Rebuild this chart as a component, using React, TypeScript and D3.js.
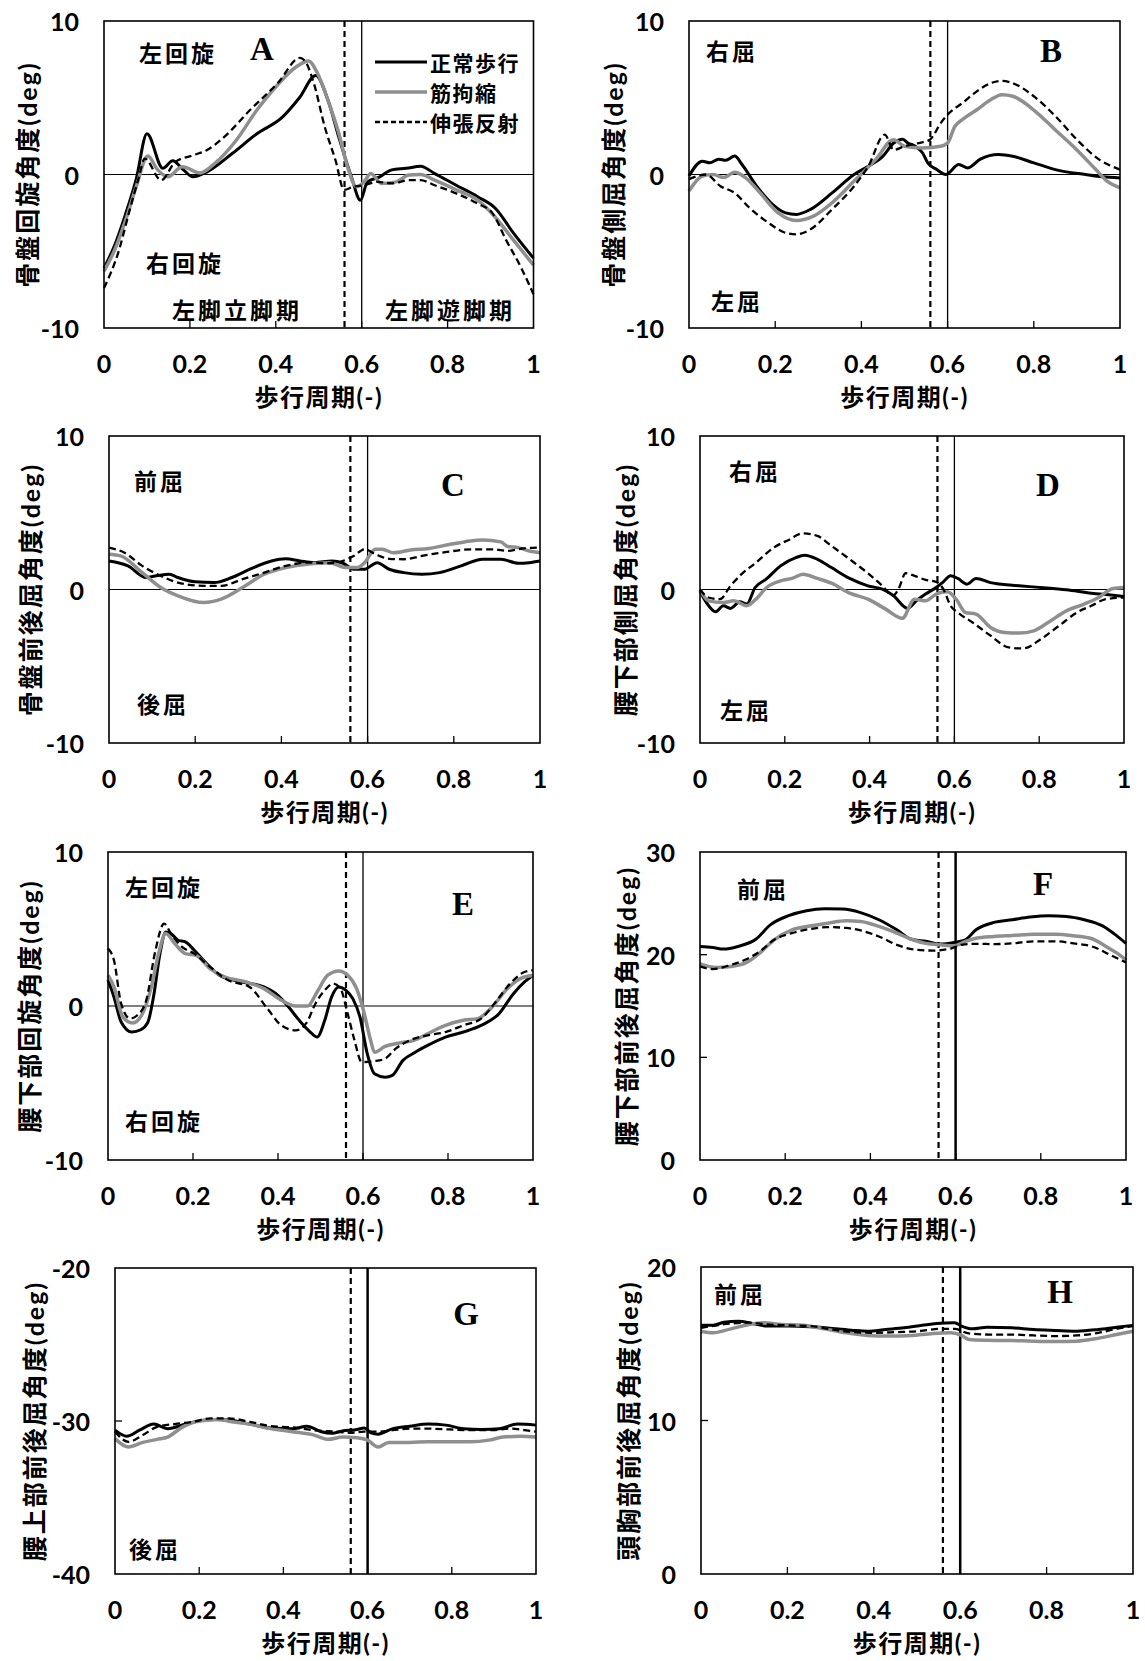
import React from 'react';
import * as d3 from 'd3';

type Pt = [number, number];

const xTicks = [0, 0.2, 0.4, 0.6, 0.8, 1];
const seriesNames = ['正常歩行', '筋拘縮', '伸張反射'];
const phaseDashed = 0.56;
const phaseSolid = 0.6;

// A: 骨盤回旋
const A_normal: Pt[] = [[0,-6.1],[0.025,-4.6],[0.05,-2.6],[0.075,-0.3],[0.1,2.66],[0.137,0.4],[0.16,0.9],[0.185,0.3],[0.207,-0.15],[0.24,0.17],[0.3,1.4],[0.356,2.66],[0.414,3.7],[0.455,5.0],[0.493,6.45],[0.522,4.8],[0.547,2.4],[0.576,-0.15],[0.597,-1.67],[0.613,-0.5],[0.642,-0.15],[0.67,0.3],[0.704,0.4],[0.737,0.54],[0.77,0.06],[0.82,-0.7],[0.87,-1.45],[0.911,-2.2],[0.953,-3.8],[1,-5.45]];
const A_contracture: Pt[] = [[0,-6.3],[0.025,-4.9],[0.05,-3.0],[0.075,-0.8],[0.102,1.2],[0.125,0.3],[0.149,-0.15],[0.182,0.5],[0.224,0.1],[0.257,0.7],[0.307,2.2],[0.356,4.2],[0.406,5.9],[0.447,7.0],[0.476,7.4],[0.497,6.6],[0.522,4.8],[0.547,2.66],[0.567,0.5],[0.588,-0.8],[0.605,-0.5],[0.621,0.06],[0.646,-0.58],[0.68,-0.48],[0.71,-0.04],[0.737,0],[0.77,-0.37],[0.82,-1.0],[0.87,-1.67],[0.91,-2.75],[0.953,-4.26],[1,-5.9]];
const A_reflex: Pt[] = [[0,-7.4],[0.033,-5.1],[0.06,-2.3],[0.08,-0.3],[0.095,1.04],[0.133,-0.37],[0.166,0.82],[0.207,1.25],[0.24,1.6],[0.28,2.45],[0.34,4.2],[0.406,6.0],[0.456,7.6],[0.468,7.4],[0.489,5.9],[0.514,3.1],[0.539,0.93],[0.559,-1.0],[0.58,-0.8],[0.605,-0.7],[0.638,-0.48],[0.67,-0.58],[0.71,-0.37],[0.737,-0.37],[0.77,-0.7],[0.82,-1.23],[0.87,-1.9],[0.904,-2.5],[0.936,-4.26],[0.97,-6.0],[1,-7.8]];

// B: 骨盤側屈
const B_normal: Pt[] = [[0,-0.1],[0.031,0.87],[0.048,0.76],[0.069,1.0],[0.085,0.93],[0.106,1.2],[0.123,0.65],[0.157,-0.76],[0.19,-1.84],[0.224,-2.5],[0.249,-2.6],[0.282,-2.27],[0.332,-1.2],[0.383,0],[0.416,0.54],[0.45,1.2],[0.475,2.05],[0.496,2.3],[0.508,2.05],[0.525,1.84],[0.542,1.4],[0.554,0.76],[0.575,0.32],[0.596,0],[0.626,0.65],[0.647,0.43],[0.676,1.0],[0.718,1.3],[0.751,1.19],[0.8,0.76],[0.85,0.32],[0.92,0],[0.96,-0.15],[1,-0.22]];
const B_contracture: Pt[] = [[0,-1.08],[0.031,-0.1],[0.056,0],[0.081,-0.2],[0.106,0.15],[0.131,-0.2],[0.165,-1.2],[0.207,-2.5],[0.249,-3.0],[0.29,-2.7],[0.332,-1.84],[0.383,-0.43],[0.433,0.97],[0.475,2.27],[0.5,1.84],[0.542,1.73],[0.584,1.84],[0.6,2.05],[0.617,3.14],[0.634,3.57],[0.667,4.2],[0.7,4.87],[0.726,5.2],[0.751,5.1],[0.8,4.2],[0.85,2.9],[0.9,1.6],[0.944,0.32],[0.97,-0.43],[1,-0.87]];
const B_reflex: Pt[] = [[0,-0.3],[0.039,0],[0.073,-0.76],[0.106,-1.2],[0.14,-2.16],[0.182,-3.1],[0.224,-3.8],[0.249,-3.9],[0.282,-3.57],[0.332,-2.27],[0.383,-0.76],[0.416,0.54],[0.454,2.6],[0.475,1.6],[0.5,1.84],[0.533,2.05],[0.559,2.27],[0.584,3.35],[0.6,3.9],[0.634,4.65],[0.667,5.4],[0.7,5.95],[0.726,6.1],[0.751,5.95],[0.8,5.1],[0.85,3.8],[0.9,2.27],[0.952,0.97],[1,0.32]];

// C: 骨盤前後屈
const C_normal: Pt[] = [[0,1.86],[0.044,1.54],[0.086,0.78],[0.11,0.89],[0.14,1.0],[0.16,0.78],[0.2,0.5],[0.244,0.45],[0.285,0.78],[0.327,1.32],[0.377,1.86],[0.41,2.0],[0.443,1.86],[0.476,1.75],[0.518,1.86],[0.543,1.71],[0.568,1.32],[0.593,1.32],[0.622,1.75],[0.65,1.32],[0.684,1.1],[0.726,1.0],[0.767,1.1],[0.817,1.54],[0.867,1.97],[0.909,1.97],[0.95,1.71],[0.975,1.75],[1,1.86]];
const C_contracture: Pt[] = [[0,2.3],[0.027,2.19],[0.077,1.1],[0.12,0.13],[0.16,-0.41],[0.22,-0.85],[0.26,-0.63],[0.31,0.13],[0.36,1.0],[0.41,1.43],[0.46,1.65],[0.51,1.75],[0.551,1.43],[0.576,1.43],[0.593,1.75],[0.618,2.62],[0.634,2.62],[0.66,2.4],[0.7,2.58],[0.742,2.67],[0.792,2.95],[0.825,3.1],[0.867,3.23],[0.909,3.1],[0.925,2.8],[0.95,2.73],[0.975,2.51],[1,2.4]];
const C_reflex: Pt[] = [[0,2.73],[0.036,2.4],[0.077,1.54],[0.12,0.89],[0.16,0.45],[0.219,0.24],[0.26,0.24],[0.31,0.67],[0.36,1.1],[0.41,1.54],[0.46,1.75],[0.51,1.71],[0.543,1.86],[0.568,2.19],[0.593,2.62],[0.618,2.3],[0.65,2.0],[0.684,1.97],[0.726,2.19],[0.784,2.45],[0.842,2.62],[0.892,2.62],[0.925,2.51],[0.959,2.67],[1,2.73]];

// D: 腰下部側屈
const D_normal: Pt[] = [[0,-0.1],[0.015,-0.85],[0.037,-1.45],[0.055,-1.06],[0.072,-1.23],[0.094,-0.8],[0.11,-0.95],[0.13,0.13],[0.156,0.67],[0.19,1.54],[0.226,2.08],[0.247,2.23],[0.277,1.97],[0.31,1.43],[0.353,0.72],[0.396,0.24],[0.43,0.02],[0.455,-0.37],[0.49,-1.23],[0.51,-0.74],[0.532,-0.3],[0.557,0.13],[0.574,0.5],[0.591,0.89],[0.608,0.72],[0.63,0.35],[0.651,0.72],[0.685,0.45],[0.736,0.28],[0.804,0.13],[0.864,-0.02],[0.923,-0.24],[0.974,-0.37],[1,-0.45]];
const D_contracture: Pt[] = [[0,0],[0.02,-0.74],[0.055,-0.85],[0.08,-0.74],[0.11,-1.06],[0.132,-0.63],[0.157,0.13],[0.19,0.56],[0.217,0.72],[0.243,1.0],[0.277,0.72],[0.31,0.41],[0.353,-0.24],[0.396,-0.63],[0.438,-1.28],[0.477,-1.88],[0.506,-0.63],[0.532,-0.74],[0.557,-0.3],[0.583,-0.15],[0.604,-0.63],[0.626,-1.5],[0.651,-1.6],[0.685,-2.47],[0.719,-2.8],[0.753,-2.84],[0.787,-2.69],[0.821,-2.15],[0.864,-1.39],[0.906,-0.95],[0.94,-0.52],[0.974,0.07],[1,0.13]];
const D_reflex: Pt[] = [[0,0],[0.02,-0.52],[0.047,-0.63],[0.072,0.24],[0.098,1.0],[0.132,1.75],[0.174,2.73],[0.209,3.23],[0.243,3.66],[0.277,3.49],[0.31,2.84],[0.353,1.97],[0.396,1.06],[0.43,0.24],[0.455,-0.41],[0.468,0.02],[0.485,1.06],[0.506,0.89],[0.532,0.63],[0.557,0.5],[0.574,0.02],[0.591,-1.06],[0.608,-1.5],[0.643,-2.15],[0.685,-3.0],[0.728,-3.77],[0.762,-3.84],[0.804,-3.23],[0.847,-2.36],[0.889,-1.5],[0.923,-1.06],[0.957,-0.63],[1,-0.52]];

// E: 腰下部回旋
const E_normal: Pt[] = [[0,1.71],[0.014,0.58],[0.031,-1.04],[0.056,-1.69],[0.077,-1.54],[0.094,-1.04],[0.107,0.58],[0.123,3.51],[0.136,4.81],[0.148,4.7],[0.165,4.27],[0.182,4.16],[0.203,3.62],[0.232,2.75],[0.266,1.93],[0.316,1.56],[0.367,1.24],[0.4,0.69],[0.425,-0.07],[0.45,-0.93],[0.476,-1.69],[0.492,-2.02],[0.51,-0.93],[0.526,0.58],[0.543,1.24],[0.56,1.02],[0.576,0.48],[0.593,-0.72],[0.61,-3.1],[0.627,-4.4],[0.652,-4.62],[0.669,-4.5],[0.694,-3.53],[0.72,-3.05],[0.752,-2.56],[0.794,-2.02],[0.836,-1.69],[0.878,-1.26],[0.92,-0.5],[0.954,0.8],[0.98,1.56],[1,2.0]];
const E_contracture: Pt[] = [[0,2.0],[0.014,1.24],[0.035,-0.72],[0.058,-1.1],[0.081,-0.5],[0.102,1.24],[0.119,3.4],[0.136,4.7],[0.157,4.05],[0.182,3.4],[0.207,3.29],[0.24,2.43],[0.274,1.89],[0.325,1.56],[0.367,1.13],[0.408,0.37],[0.442,0],[0.47,0],[0.492,0.91],[0.517,2.0],[0.543,2.28],[0.564,2.0],[0.585,1.13],[0.601,-0.28],[0.618,-2.23],[0.627,-3.0],[0.652,-2.62],[0.686,-2.4],[0.72,-2.23],[0.752,-1.8],[0.794,-1.26],[0.836,-0.93],[0.87,-0.82],[0.904,-0.07],[0.937,1.06],[0.97,1.78],[1,2.0]];
const E_reflex: Pt[] = [[0,3.73],[0.014,2.97],[0.031,0.15],[0.052,-0.82],[0.069,-0.6],[0.09,0.37],[0.11,3.4],[0.132,5.35],[0.148,4.7],[0.174,3.84],[0.203,3.4],[0.24,2.54],[0.283,1.67],[0.333,1.24],[0.375,-0.17],[0.408,-1.26],[0.442,-1.58],[0.467,-1.1],[0.488,0.15],[0.51,1.02],[0.53,1.45],[0.547,1.13],[0.564,-0.5],[0.58,-2.23],[0.597,-3.64],[0.627,-3.58],[0.652,-3.42],[0.677,-2.77],[0.71,-2.23],[0.752,-1.9],[0.794,-1.69],[0.836,-1.26],[0.878,-0.82],[0.912,0.26],[0.946,1.45],[0.98,2.21],[1,2.32]];

// F: 腰下部前後屈
const F_normal: Pt[] = [[0,20.8],[0.03,20.7],[0.055,20.54],[0.089,20.8],[0.131,21.5],[0.165,22.9],[0.208,23.8],[0.25,24.28],[0.292,24.47],[0.335,24.44],[0.377,24.1],[0.42,23.4],[0.462,22.42],[0.496,21.5],[0.53,21.3],[0.564,21.03],[0.597,21.2],[0.623,21.45],[0.648,22.42],[0.69,23.14],[0.733,23.4],[0.775,23.66],[0.818,23.79],[0.86,23.72],[0.902,23.4],[0.945,22.8],[0.97,22.1],[1,21.1]];
const F_contracture: Pt[] = [[0,19.1],[0.038,18.75],[0.072,18.85],[0.106,19.17],[0.14,20.15],[0.174,21.45],[0.216,22.42],[0.258,22.8],[0.3,23.07],[0.343,23.3],[0.377,23.24],[0.42,22.75],[0.462,22.1],[0.496,21.5],[0.53,21.1],[0.564,20.96],[0.597,20.86],[0.623,21.3],[0.648,21.6],[0.69,21.77],[0.733,21.87],[0.784,22.0],[0.835,22.0],[0.877,21.84],[0.92,21.55],[0.953,20.8],[0.979,20.15],[1,19.5]];
const F_reflex: Pt[] = [[0,18.85],[0.03,18.6],[0.072,19.0],[0.106,19.5],[0.14,20.3],[0.174,21.45],[0.216,22.1],[0.258,22.5],[0.3,22.68],[0.343,22.6],[0.377,22.36],[0.42,21.77],[0.462,20.96],[0.496,20.54],[0.547,20.4],[0.589,20.6],[0.614,20.96],[0.648,21.06],[0.69,21.03],[0.733,21.1],[0.784,21.3],[0.835,21.3],[0.877,21.1],[0.92,20.8],[0.962,20.0],[1,19.24]];

// G: 腰上部前後屈
const G_normal: Pt[] = [[0,-30.6],[0.028,-31.0],[0.058,-30.6],[0.092,-30.2],[0.125,-30.5],[0.168,-30.2],[0.2,-30.0],[0.236,-29.9],[0.27,-29.94],[0.32,-30.2],[0.37,-30.45],[0.422,-30.5],[0.456,-30.34],[0.49,-30.7],[0.515,-30.8],[0.54,-30.65],[0.575,-30.55],[0.592,-30.45],[0.608,-30.77],[0.625,-30.86],[0.66,-30.5],[0.7,-30.34],[0.744,-30.2],[0.786,-30.27],[0.828,-30.5],[0.871,-30.55],[0.913,-30.5],[0.956,-30.2],[1,-30.27]];
const G_contracture: Pt[] = [[0,-31.15],[0.032,-31.7],[0.066,-31.4],[0.1,-31.2],[0.125,-31.05],[0.16,-30.4],[0.2,-30.0],[0.245,-29.9],[0.278,-30.05],[0.32,-30.2],[0.37,-30.5],[0.422,-30.7],[0.473,-30.92],[0.507,-31.2],[0.54,-31.05],[0.575,-31.1],[0.6,-31.25],[0.625,-31.7],[0.65,-31.4],[0.7,-31.4],[0.744,-31.35],[0.795,-31.35],[0.845,-31.35],[0.888,-31.25],[0.922,-31.05],[0.964,-31.0],[1,-31.05]];
const G_reflex: Pt[] = [[0,-30.7],[0.032,-31.36],[0.066,-30.92],[0.1,-30.38],[0.142,-30.2],[0.185,-30.05],[0.227,-29.83],[0.27,-29.83],[0.32,-30.05],[0.37,-30.34],[0.422,-30.42],[0.473,-30.6],[0.525,-30.7],[0.558,-30.77],[0.592,-30.7],[0.625,-30.7],[0.66,-30.6],[0.7,-30.5],[0.744,-30.5],[0.795,-30.55],[0.845,-30.6],[0.897,-30.6],[0.939,-30.5],[0.973,-30.6],[1,-30.7]];

// H: 頭胸部前後屈
const H_normal: Pt[] = [[0,16.2],[0.028,16.2],[0.053,16.4],[0.086,16.47],[0.12,16.32],[0.153,16.15],[0.203,16.15],[0.253,16.1],[0.303,16.0],[0.353,15.87],[0.386,15.82],[0.428,15.93],[0.47,16.04],[0.512,16.2],[0.545,16.32],[0.587,16.37],[0.603,16.15],[0.629,15.97],[0.662,16.08],[0.72,16.04],[0.77,15.93],[0.82,15.87],[0.87,15.82],[0.92,15.93],[0.962,16.08],[1,16.2]];
const H_contracture: Pt[] = [[0,15.82],[0.028,15.71],[0.069,15.97],[0.111,16.26],[0.145,16.37],[0.186,16.26],[0.236,16.2],[0.286,15.97],[0.336,15.71],[0.386,15.54],[0.437,15.5],[0.487,15.54],[0.537,15.67],[0.578,15.71],[0.603,15.54],[0.62,15.28],[0.662,15.23],[0.72,15.21],[0.77,15.17],[0.82,15.15],[0.87,15.17],[0.912,15.32],[0.962,15.6],[1,15.82]];
const H_reflex: Pt[] = [[0,16.04],[0.036,16.2],[0.069,16.32],[0.111,16.37],[0.153,16.26],[0.203,16.2],[0.253,16.15],[0.303,15.93],[0.353,15.76],[0.403,15.71],[0.453,15.76],[0.503,15.82],[0.553,15.97],[0.587,15.97],[0.62,15.67],[0.67,15.6],[0.72,15.6],[0.77,15.54],[0.82,15.5],[0.87,15.54],[0.92,15.71],[0.962,15.97],[1,16.15]];

const GRAY = '#8f8f8f';
const FONT = "Lato, 'Noto Sans CJK JP', sans-serif";
const CJK = "'Noto Sans CJK JP', sans-serif";

type Note = { t: string; x: number; y: number };
type Panel = {
  key: string;
  box: [number, number, number, number];
  yDomain: [number, number];
  yTicks: number[];
  title: string;
  titleX: number;
  heavy: boolean;
  series: Pt[][];
  notes: Note[];
  letter: [number, number];
};

const panels: Panel[] = [
  { key: 'A', box: [104, 21, 533.5, 328], yDomain: [-10, 10], yTicks: [-10, 0, 10], title: '骨盤回旋角度(deg)', titleX: 27, heavy: false,
    series: [A_normal, A_contracture, A_reflex],
    notes: [{ t: '左回旋', x: 139, y: 52 }, { t: '右回旋', x: 146, y: 262 }, { t: '左脚立脚期', x: 172, y: 309 }, { t: '左脚遊脚期', x: 385, y: 309 }],
    letter: [262, 49] },
  { key: 'B', box: [689, 21, 1120, 328], yDomain: [-10, 10], yTicks: [-10, 0, 10], title: '骨盤側屈角度(deg)', titleX: 613, heavy: false,
    series: [B_normal, B_contracture, B_reflex],
    notes: [{ t: '右屈', x: 706, y: 50 }, { t: '左屈', x: 711, y: 300 }],
    letter: [1051, 51] },
  { key: 'C', box: [109, 436, 540, 743], yDomain: [-10, 10], yTicks: [-10, 0, 10], title: '骨盤前後屈角度(deg)', titleX: 30, heavy: false,
    series: [C_normal, C_contracture, C_reflex],
    notes: [{ t: '前屈', x: 134, y: 480 }, { t: '後屈', x: 137, y: 703 }],
    letter: [453, 485] },
  { key: 'D', box: [700, 436, 1124, 743], yDomain: [-10, 10], yTicks: [-10, 0, 10], title: '腰下部側屈角度(deg)', titleX: 625, heavy: false,
    series: [D_normal, D_contracture, D_reflex],
    notes: [{ t: '右屈', x: 729, y: 470 }, { t: '左屈', x: 720, y: 709 }],
    letter: [1048, 485] },
  { key: 'E', box: [108, 852, 533, 1160], yDomain: [-10, 10], yTicks: [-10, 0, 10], title: '腰下部回旋角度(deg)', titleX: 29, heavy: false,
    series: [E_normal, E_contracture, E_reflex],
    notes: [{ t: '左回旋', x: 125, y: 886 }, { t: '右回旋', x: 125, y: 1120 }],
    letter: [463, 904] },
  { key: 'F', box: [700, 852, 1126, 1160], yDomain: [0, 30], yTicks: [0, 10, 20, 30], title: '腰下部前後屈角度(deg)', titleX: 626, heavy: true,
    series: [F_normal, F_contracture, F_reflex],
    notes: [{ t: '前屈', x: 737, y: 888 }],
    letter: [1043, 884] },
  { key: 'G', box: [115, 1268, 536, 1574], yDomain: [-40, -20], yTicks: [-40, -30, -20], title: '腰上部前後屈角度(deg)', titleX: 34, heavy: true,
    series: [G_normal, G_contracture, G_reflex],
    notes: [{ t: '後屈', x: 129, y: 1548 }],
    letter: [466, 1314] },
  { key: 'H', box: [701, 1267, 1133, 1574], yDomain: [0, 20], yTicks: [0, 10, 20], title: '頭胸部前後屈角度(deg)', titleX: 628, heavy: true,
    series: [H_normal, H_contracture, H_reflex],
    notes: [{ t: '前屈', x: 714, y: 1293 }],
    letter: [1060, 1292] },
];

const seriesStyle = [
  { stroke: '#000', width: 3, dash: undefined as string | undefined },
  { stroke: GRAY, width: 3.5, dash: undefined as string | undefined },
  { stroke: '#000', width: 2.3, dash: '7,4' },
];

const ChartPanel = ({ p }: { p: Panel }) => {
  const [x0, y0, x1, y1] = p.box;
  const x = d3.scaleLinear().domain([0, 1]).range([x0, x1]);
  const y = d3.scaleLinear().domain(p.yDomain).range([y1, y0]);
  const line = d3.line<Pt>().x(d => x(d[0])).y(d => y(d[1])).curve(d3.curveMonotoneX);
  const hasZero = p.yDomain[0] < 0 && p.yDomain[1] > 0;
  const midY = (y0 + y1) / 2;

  return (
    <g>
      {hasZero && <line x1={x0} x2={x1} y1={y(0)} y2={y(0)} stroke="#000" strokeWidth={1.2} />}
      {xTicks.slice(1, -1).map(t => (
        <line key={'xt' + t} x1={x(t)} x2={x(t)} y1={y1} y2={y1 - 7} stroke="#000" strokeWidth={1.3} />
      ))}
      {p.yTicks.filter(t => t !== p.yDomain[0] && t !== p.yDomain[1] && t !== 0).map(t => (
        <line key={'yt' + t} x1={x0} x2={x0 + 7} y1={y(t)} y2={y(t)} stroke="#000" strokeWidth={1.3} />
      ))}
      <line x1={x(phaseDashed)} x2={x(phaseDashed)} y1={y0} y2={y1} stroke="#000" strokeWidth={2.2} strokeDasharray="6,4" />
      <line x1={x(phaseSolid)} x2={x(phaseSolid)} y1={y0} y2={y1} stroke="#000" strokeWidth={p.heavy ? 2.5 : 1.3} />
      {p.series.map((s, i) => (
        <path key={i} d={line(s) || ''} fill="none" stroke={seriesStyle[i].stroke}
          strokeWidth={seriesStyle[i].width} strokeDasharray={seriesStyle[i].dash} strokeLinejoin="round" />
      ))}
      <rect x={x0} y={y0} width={x1 - x0} height={y1 - y0} fill="none" stroke="#000" strokeWidth={1.6} />

      {xTicks.map(t => (
        <text key={'xl' + t} x={x(t)} y={y1 + 35} textAnchor="middle" dominantBaseline="central"
          fontFamily={FONT} fontWeight="bold" fontSize={25}>{d3.format('~g')(t)}</text>
      ))}
      {p.yTicks.map(t => (
        <text key={'yl' + t} x={x0 - 25} y={y(t)} textAnchor="end" dominantBaseline="central"
          fontFamily={FONT} fontWeight="bold" fontSize={25}>{t}</text>
      ))}
      <text x={(x0 + x1) / 2} y={y1 + 68} textAnchor="middle" dominantBaseline="central"
        fontFamily={FONT} fontWeight="bold" fontSize={24} letterSpacing={1.5}>歩行周期(-)</text>
      <text transform={`translate(${p.titleX},${midY}) rotate(-90)`} textAnchor="middle" dominantBaseline="central"
        fontFamily={FONT} fontWeight="bold" fontSize={25} letterSpacing={2}>{p.title}</text>

      {p.notes.map(n => (
        <text key={n.t} x={n.x} y={n.y} dominantBaseline="central" fontFamily={CJK} fontWeight="bold"
          fontSize={23} letterSpacing={3}>{n.t}</text>
      ))}
      <text x={p.letter[0]} y={p.letter[1]} textAnchor="middle" dominantBaseline="central"
        fontFamily="'Liberation Serif', 'Times New Roman', serif" fontWeight="bold" fontSize={33}>{p.key}</text>

      {p.key === 'A' && seriesNames.map((name, i) => (
        <g key={name}>
          <line x1={375} x2={427} y1={62 + i * 30} y2={62 + i * 30} stroke={seriesStyle[i].stroke}
            strokeWidth={seriesStyle[i].width} strokeDasharray={i === 2 ? '5,3' : undefined} />
          <text x={430} y={62 + i * 30} dominantBaseline="central" fontFamily={CJK} fontWeight="bold"
            fontSize={21} letterSpacing={1.5}>{name}</text>
        </g>
      ))}
    </g>
  );
};

export default function App() {
  return (
    <svg width={1145} height={1661} style={{ position: 'absolute', left: 0, top: 0, background: '#fff' }}>
      <rect width={1145} height={1661} fill="#fff" />
      {panels.map(p => <ChartPanel key={p.key} p={p} />)}
    </svg>
  );
}
